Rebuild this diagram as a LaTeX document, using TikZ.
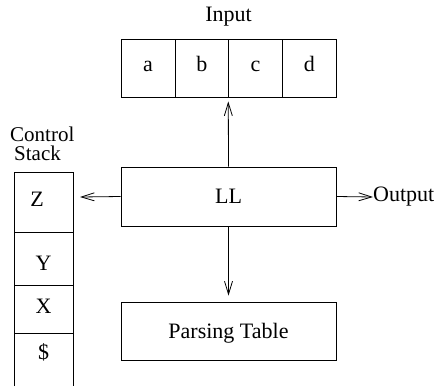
\documentclass[tikz,border=0pt]{standalone}
\usepackage{fontspec}
\setmainfont{Liberation Serif}
\usepackage{tikz}
\usetikzlibrary{arrows.meta,positioning}

\tikzset{
  box/.style={draw,line width=0.9pt,inner sep=0pt,minimum height=58pt,text height=14pt,text depth=0pt},
  cell/.style={box,minimum width=53.75pt,text height=6pt},
  arr/.style={line width=0.8pt,-{Straight Barb[length=13pt,width=8pt,line width=0.8pt]}},
  lab/.style={inner sep=0pt,anchor=base}
}

\begin{document}
\begin{tikzpicture}[x=1pt,y=-1pt,font=\fontsize{22}{24}\selectfont]
\useasboundingbox (0,0) rectangle (436,386);
% input tape
\node[cell] (a) at (148.1,68) {a};
\node[cell] (b) at (201.9,68) {b};
\node[cell] (c) at (255.6,68) {c};
\node[cell] (d) at (309.4,68) {d};
\node[lab] (inp) at (228.5,21) {Input};
% parser and table
\node[box,minimum width=215pt,minimum height=59pt] (ll) at (228.5,196.5) {LL};
\node[box,minimum width=215pt] (tab) at (228.5,331) {Parsing Table};
\node[inner sep=0pt,anchor=west] (out) at (373,197) {Output};
% control stack
\node[lab,anchor=base west,text depth=0pt,font=\fontsize{21}{22}\selectfont] (ctl) at (10,141) {Control};
\node[lab,anchor=base west,text height=10pt,font=\fontsize{21}{22}\selectfont] (stk) at (14,160) {Stack};
\draw[line width=0.9pt] (14,386) -- (14,172) -- (73,172) -- (73,386);
\draw[line width=0.9pt] (14,232) -- (73,232);
\draw[line width=0.9pt] (14,285) -- (73,285);
\draw[line width=0.9pt] (14,333) -- (73,333);
\node[lab] (z) at (37,206) {Z};
\node[lab] (y) at (43.5,270) {Y};
\node[lab] (x) at (43.5,313) {X};
\node[lab] (dol) at (43.5,359) {\$};
\coordinate (top) at (80,197);
% connectors
\draw[arr,shorten >=4pt] (ll.north) -- (c.south west);
\draw[arr,shorten >=6pt] (ll.south) -- (tab.north);
\draw[arr] (ll.west) -- (top);
\draw[arr] (ll.east) -- (out.west);
\end{tikzpicture}
\end{document}
